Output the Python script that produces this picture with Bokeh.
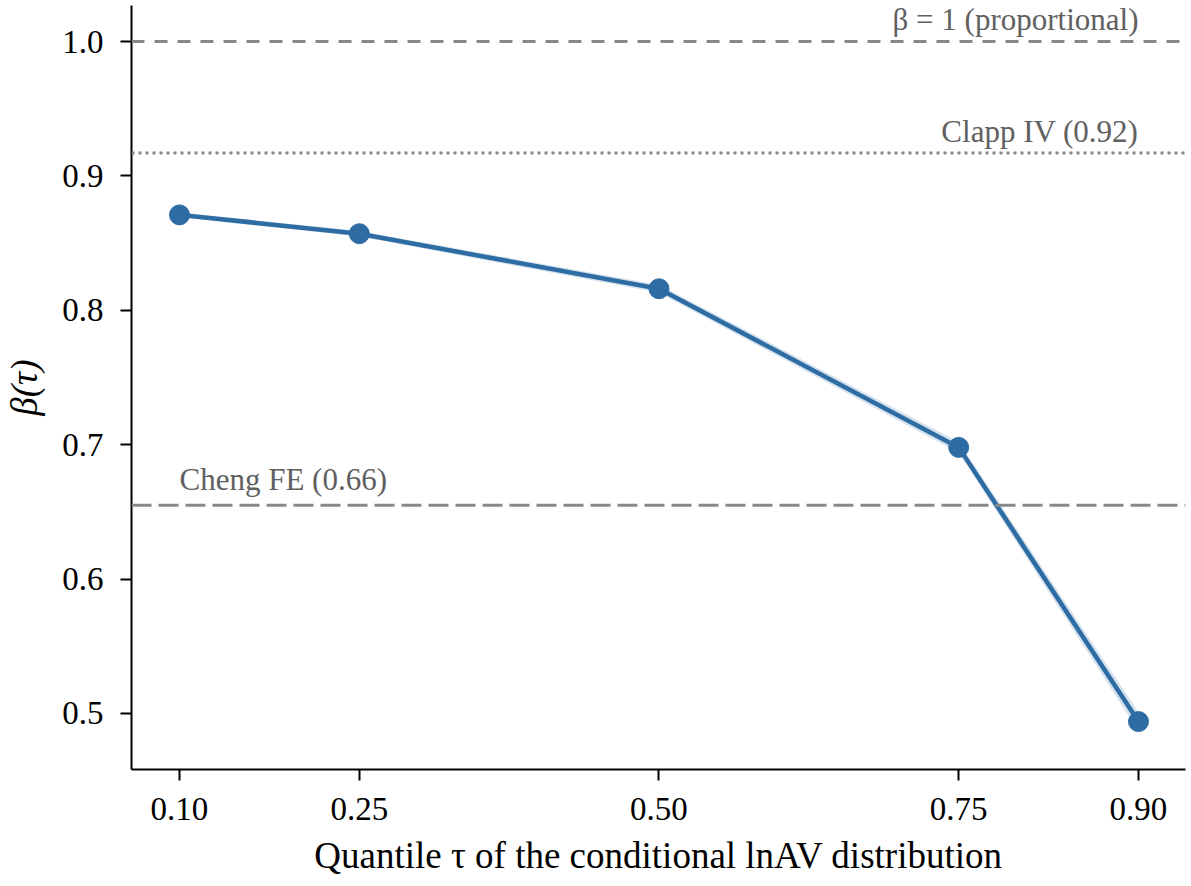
from bokeh.plotting import figure
from bokeh.models import ColumnDataSource, Span, Label, FixedTicker
from bokeh.embed import file_html
from bokeh.resources import INLINE

# ---- data ----
quantiles = [0.10, 0.25, 0.50, 0.75, 0.90]
beta = [0.871, 0.857, 0.816, 0.698, 0.494]
beta_lo = [0.869, 0.855, 0.813, 0.694, 0.487]
beta_hi = [0.873, 0.859, 0.819, 0.702, 0.501]
x_tick_labels = ["0.10", "0.25", "0.50", "0.75", "0.90"]
y_ticks = [0.5, 0.6, 0.7, 0.8, 0.9, 1.0]
y_tick_labels = ["0.5", "0.6", "0.7", "0.8", "0.9", "1.0"]

ref_proportional = 1.0
ref_clapp = 0.917
ref_cheng = 0.655

FONT = "Liberation Serif"
BLUE = "#2e6ca4"
GREY_LINE = "#888888"
GREY_TEXT = "#606060"

p = figure(width=1189, height=884, output_backend="svg", toolbar_location=None,
           x_range=(0.05996, 0.93921), y_range=(0.45833, 1.02679),
           min_border_left=131, min_border_right=4, min_border_top=5, min_border_bottom=115)

p.outline_line_color = None
p.xgrid.visible = False
p.ygrid.visible = False
p.background_fill_color = "white"

# reference lines
p.add_layout(Span(location=ref_proportional, dimension="width", line_color=GREY_LINE,
                  line_width=3, line_dash="13 10"))
p.add_layout(Span(location=ref_clapp, dimension="width", line_color=GREY_LINE,
                  line_width=3, line_dash="3 4"))
p.add_layout(Span(location=ref_cheng, dimension="width", line_color=GREY_LINE,
                  line_width=3, line_dash="20 7"))

# CI band
src = ColumnDataSource(dict(x=quantiles, y=beta, lo=beta_lo, hi=beta_hi))
p.varea(x="x", y1="lo", y2="hi", source=src, fill_color=BLUE, fill_alpha=0.2)

p.line("x", "y", source=src, line_color=BLUE, line_width=4.5)
p.scatter("x", "y", source=src, size=20, fill_color=BLUE, line_color=BLUE)

# annotations
p.add_layout(Label(x=0.9, y=ref_proportional, text="β = 1 (proportional)", text_align="right",
                   text_baseline="alphabetic", y_offset=22, text_font=FONT,
                   text_font_size="31px", text_color=GREY_TEXT))
p.add_layout(Label(x=0.9, y=ref_clapp, text="Clapp IV (0.92)", text_align="right",
                   text_baseline="alphabetic", y_offset=22, text_font=FONT,
                   text_font_size="31px", text_color=GREY_TEXT))
p.add_layout(Label(x=0.1, y=ref_cheng, text="Cheng FE (0.66)", text_align="left",
                   text_baseline="alphabetic", y_offset=26, text_font=FONT,
                   text_font_size="31px", text_color=GREY_TEXT))

# axes
p.xaxis.ticker = FixedTicker(ticks=quantiles)
p.xaxis.major_label_overrides = {q: lab for q, lab in zip(quantiles, x_tick_labels)}
p.yaxis.ticker = FixedTicker(ticks=y_ticks)
p.yaxis.major_label_overrides = {t: lab for t, lab in zip(y_ticks, y_tick_labels)}
p.xaxis.minor_tick_line_color = None
p.yaxis.minor_tick_line_color = None

for ax in (p.xaxis[0], p.yaxis[0]):
    ax.axis_line_color = "black"
    ax.axis_line_width = 2
    ax.major_tick_line_color = "black"
    ax.major_tick_line_width = 2
    ax.major_tick_out = 11
    ax.major_tick_in = 0
    ax.major_label_text_font = FONT
    ax.major_label_text_font_size = "33px"
    ax.major_label_text_color = "black"
    ax.axis_label_text_font = FONT
    ax.axis_label_text_font_size = "37px"
    ax.axis_label_text_color = "black"
    ax.axis_label_text_font_style = "normal"

p.xaxis.axis_label = "Quantile τ of the conditional lnAV distribution"
p.xaxis.major_label_standoff = 17
p.xaxis.axis_label_standoff = 12
p.yaxis.axis_label = "β(τ)"
p.yaxis.axis_label_text_font_style = "italic"
p.yaxis.major_label_standoff = 17
p.yaxis.axis_label_standoff = 14

open("out.html", "w").write(file_html(p, INLINE))
